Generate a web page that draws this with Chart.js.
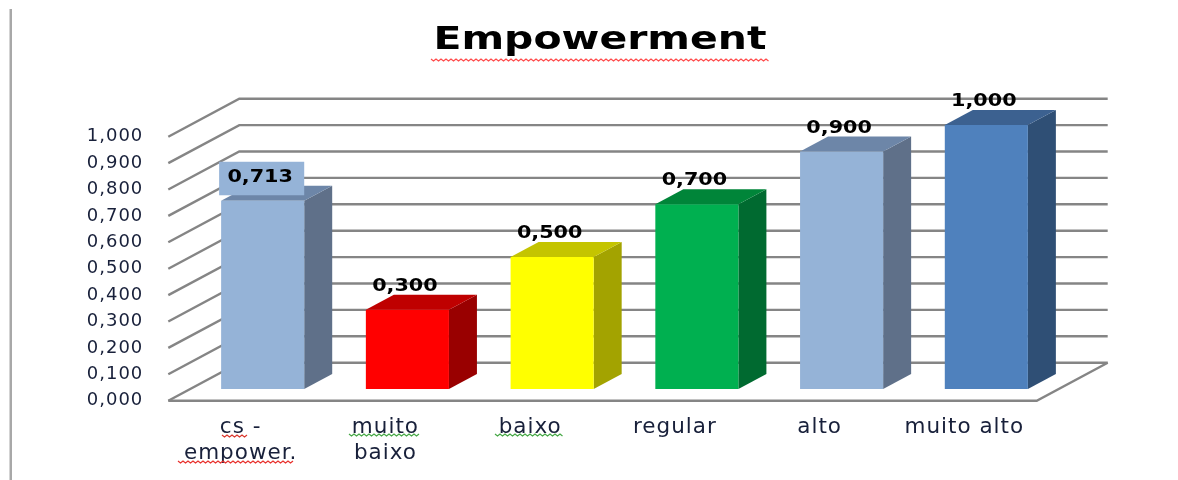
<!DOCTYPE html>
<html>
<head>
<meta charset="utf-8">
<title>Empowerment</title>
<script src="https://cdn.jsdelivr.net/npm/chart.js@4/dist/chart.umd.min.js"></script>
<style>
  html, body { margin: 0; padding: 0; background: #fff; }
  #wrap { width: 1178px; height: 480px; }
  canvas { filter: blur(0.6px); }
</style>
</head>
<body>
<div id="wrap"><canvas id="myChart" width="1178" height="480"></canvas></div>
<script>
const categories = [["cs -", "empower."], ["muito", "baixo"], "baixo", "regular", "alto", "muito alto"];
const values = [0.713, 0.3, 0.5, 0.7, 0.9, 1.0];
const titleText = "Empowerment";

const frontColors = ["#95b3d7", "#ff0000", "#ffff00", "#00b050", "#95b3d7", "#4f81bd"];
const sideColors = ["#5f7089", "#990000", "#a3a300", "#006a30", "#5f7089", "#2f4f75"];
const topColors = ["#6d86a8", "#bf0000", "#c4c400", "#008539", "#6d86a8", "#3c6190"];

// 3d look: wall depth, and how far the bars stand in from the front edge
const wallDx = 71, wallDy = 38;
const barDx = 22, barDy = 11.7;
const depthDx = 28, depthDy = 15;
const gridColor = "#858585";

const fmt = (v) => Number(v).toFixed(3).replace(".", ",");

// spell check squiggles from the original screenshot: [x1, x2, y, color]
const squiggles = [
  [431, 769, 60, "#ff4a4a"],
  [222, 248, 436, "#d9362c"],
  [178, 295, 462, "#e8302c"],
  [349, 421, 435, "#46a846"],
  [495, 563, 435, "#46a846"],
];

function wideText(ctx, text, x, y, font, color, sx) {
  ctx.save();
  ctx.letterSpacing = "0px";
  ctx.font = font;
  ctx.fillStyle = color;
  ctx.textAlign = "center";
  ctx.textBaseline = "middle";
  ctx.translate(x, y);
  ctx.scale(sx, 1);
  ctx.fillText(text, 0, 0);
  ctx.restore();
}

function face(ctx, color, pts) {
  ctx.fillStyle = color;
  ctx.beginPath();
  pts.forEach((p, i) => (i ? ctx.lineTo(p[0], p[1]) : ctx.moveTo(p[0], p[1])));
  ctx.closePath();
  ctx.fill();
}

const box3d = {
  id: "box3d",
  beforeDraw(chart) {
    chart.ctx.letterSpacing = "1px";
  },
  beforeDatasetsDraw(chart) {
    const { ctx, chartArea: a, scales } = chart;
    const y = scales.y;
    ctx.save();
    // page rule on the left
    ctx.fillStyle = "#a8a8a8";
    ctx.fillRect(9.5, 9, 2.5, 471);
    // walls
    ctx.strokeStyle = gridColor;
    ctx.lineWidth = 2.4;
    y.ticks.forEach((t) => {
      const py = y.getPixelForValue(t.value);
      ctx.beginPath();
      ctx.moveTo(a.left, py);
      ctx.lineTo(a.left + wallDx, py - wallDy);
      ctx.lineTo(a.right + wallDx, py - wallDy);
      ctx.stroke();
    });
    // floor edge
    const y0 = y.getPixelForValue(0);
    ctx.beginPath();
    ctx.moveTo(a.left, y0);
    ctx.lineTo(a.right, y0);
    ctx.lineTo(a.right + wallDx, y0 - wallDy);
    ctx.stroke();
    // side and top of each bar
    chart.getDatasetMeta(0).data.forEach((bar, i) => {
      const l = bar.x - bar.width / 2 + barDx;
      const r = bar.x + bar.width / 2 + barDx;
      const t = bar.y - barDy;
      const b = bar.base - barDy;
      face(ctx, sideColors[i], [[r, t], [r + depthDx, t - depthDy], [r + depthDx, b - depthDy], [r, b]]);
      face(ctx, topColors[i], [[l, t], [l + depthDx, t - depthDy], [r + depthDx, t - depthDy], [r, t]]);
    });
    ctx.restore();
  },
  beforeDatasetDraw(chart) {
    chart.ctx.save();
    chart.ctx.translate(barDx, -barDy);
  },
  afterDatasetDraw(chart) {
    chart.ctx.restore();
  },
  afterDraw(chart) {
    const { ctx } = chart;
    const valueFont = "bold 18px 'DejaVu Sans'";
    chart.getDatasetMeta(0).data.forEach((bar, i) => {
      const cx = bar.x + barDx;
      const cy = bar.y - barDy - 23.5;
      if (i === 0) {
        // first label has a filled box in the original
        ctx.fillStyle = frontColors[0];
        ctx.fillRect(cx - bar.width / 2 - 2, cy - 15.5, bar.width + 2, 33.5);
      }
      wideText(ctx, fmt(values[i]), cx - 2.5, cy, valueFont, "#000", 1.15);
    });
    wideText(ctx, titleText, 600, 41, "bold 32px 'DejaVu Sans'", "#000", 1.28);
    squiggles.forEach(([x1, x2, sy, color]) => {
      ctx.save();
      ctx.strokeStyle = color;
      ctx.lineWidth = 1.2;
      ctx.beginPath();
      for (let x = x1, up = true; x <= x2; x += 2.5, up = !up) {
        ctx.lineTo(x, sy + (up ? -1 : 1));
      }
      ctx.stroke();
      ctx.restore();
    });
  },
};

new Chart(document.getElementById("myChart"), {
  type: "bar",
  data: {
    labels: categories,
    datasets: [
      {
        label: titleText,
        data: values,
        backgroundColor: frontColors,
        borderWidth: 0,
        categoryPercentage: 1,
        barPercentage: 0.574,
      },
    ],
  },
  options: {
    responsive: false,
    animation: false,
    layout: { padding: { top: 136.7, right: 141.3, left: 0, bottom: 0 } },
    plugins: { legend: { display: false }, title: { display: false }, tooltip: { enabled: false } },
    scales: {
      x: {
        grid: { display: false, drawTicks: false },
        border: { display: false },
        afterFit(s) {
          s.height = 79.3;
        },
        ticks: {
          padding: 14,
          maxRotation: 0,
          autoSkip: false,
          color: "#18203a",
          font: { family: "'DejaVu Sans'", size: 21.5 },
        },
      },
      y: {
        min: 0,
        max: 1,
        grid: { display: false, drawTicks: false },
        border: { display: false },
        afterFit(s) {
          s.width = 168.3;
        },
        ticks: {
          stepSize: 0.1,
          padding: 25,
          color: "#18203a",
          font: { family: "'DejaVu Sans'", size: 18 },
          callback: (v) => fmt(v),
        },
      },
    },
  },
  plugins: [box3d],
});
</script>
</body>
</html>
